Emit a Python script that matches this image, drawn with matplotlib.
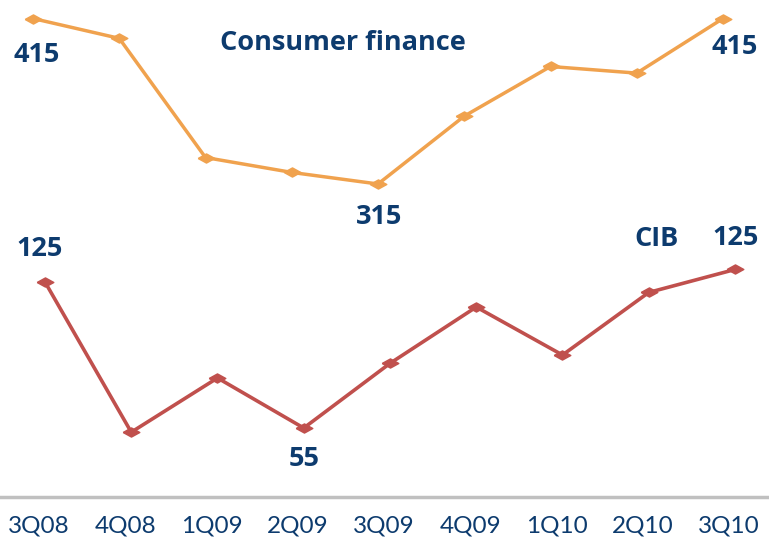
import matplotlib
matplotlib.use("Agg")
import matplotlib.pyplot as plt
from matplotlib.lines import Line2D

quarters = ["3Q08", "4Q08", "1Q09", "2Q09", "3Q09", "4Q09", "1Q10", "2Q10", "3Q10"]
consumer = [415, 403, 331, 322, 315, 356, 386, 382, 415]
cib = [125, 53, 79, 55, 86, 113, 90, 120, 131]

# value labels: (series index, text, offset in pixels)
consumer_labels = [(0, "415", (4, -37)), (4, "315", (1, -33)), (8, "415", (12, -29))]
cib_labels = [(0, "125", (-5, 33)), (3, "55", (0, -31)), (8, "125", (1, 31))]

navy = "#0D3B6E"
orange = "#F0A24E"
red = "#C0504D"
diamond = [(-1, 0), (0, 0.55), (1, 0), (0, -0.55), (-1, 0)]

W, H = 769, 539
fig = plt.figure(figsize=(W / 100, H / 100), dpi=100)

# CIB axes: category i sits at pixel 45 + 86.25*i
step = 86.25
ax_cib = fig.add_axes([0, 0, 1, 1])
ax_cib.set_xlim(-45 / step, (W - 45) / step)
ax_cib.set_ylim(125 - (H - 282) / 2.086, 125 + 282 / 2.086)

# consumer finance axes, drawn slightly left of the CIB points
ax_cf = fig.add_axes([0, 0, 1, 1])
ax_cf.set_xlim(-33 / step, (W - 33) / step)
ax_cf.set_ylim(415 - (H - 18.5) / 1.655, 415 + 18.5 / 1.655)

for ax in (ax_cib, ax_cf):
    ax.axis("off")
    ax.patch.set_alpha(0)

x = list(range(len(quarters)))
ax_cf.plot(x, consumer, color=orange, lw=2.5, marker=diamond, ms=12, mec=orange, mfc=orange)
ax_cib.plot(x, cib, color=red, lw=2.6, marker=diamond, ms=12, mec=red, mfc=red)

bold = dict(color=navy, fontsize=19.5, fontweight="bold", family="Open Sans",
            ha="center", va="center", textcoords="offset pixels")
for i, txt, off in consumer_labels:
    ax_cf.annotate(txt, (i, consumer[i]), xytext=off, **bold)
for i, txt, off in cib_labels:
    ax_cib.annotate(txt, (i, cib[i]), xytext=off, **bold)

fig.text(343 / W, 1 - 43 / H, "Consumer finance", color=navy, fontsize=19.5,
         fontweight="bold", family="Open Sans", ha="center", va="center")
fig.text(656 / W, 1 - 239 / H, "CIB", color=navy, fontsize=19.5,
         fontweight="bold", family="Open Sans", ha="center", va="center")

# baseline and category labels
fig.add_artist(Line2D([0, 1], [1 - 497 / H, 1 - 497 / H], color="#C0C0C0", lw=2.5,
                      transform=fig.transFigure))
for i, q in enumerate(quarters):
    ax_cib.text(i - 0.07, 1 - 526 / H, q, transform=ax_cib.get_xaxis_transform(),
                color=navy, fontsize=17.5, family="Lato", ha="center", va="center")

fig.savefig("out.png", dpi=100)
